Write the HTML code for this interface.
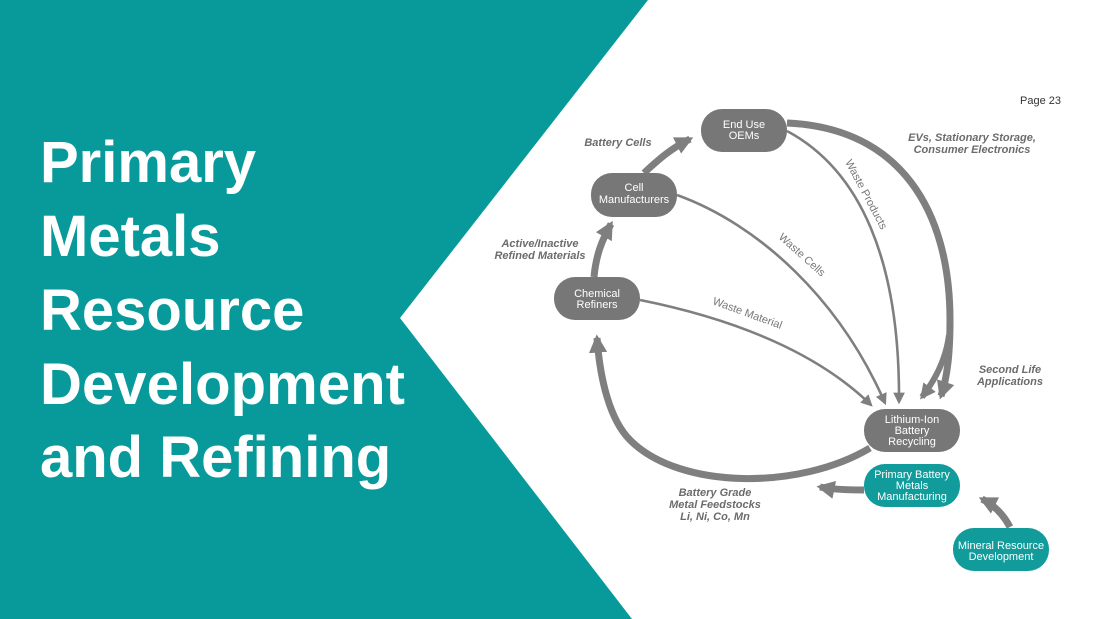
<!DOCTYPE html>
<html><head><meta charset="utf-8"><style>
html,body{margin:0;padding:0;background:#fff;}
svg{display:block;}
.t{font-family:"Liberation Sans",sans-serif;font-weight:bold;fill:#fff;font-size:58px;}
.n{font-family:"Liberation Sans",sans-serif;font-size:11px;fill:#fff;text-anchor:middle;}
.l{font-family:"Liberation Sans",sans-serif;font-size:11px;font-weight:bold;font-style:italic;fill:#6b6b6b;text-anchor:middle;}
.w{font-family:"Liberation Sans",sans-serif;font-size:11px;fill:#777;}
</style></head><body>
<svg width="1100" height="619" viewBox="0 0 1100 619" xmlns="http://www.w3.org/2000/svg">
<defs>
<marker id="a" viewBox="0 0 10 10" refX="8" refY="5" markerWidth="2.6" markerHeight="2.6" orient="auto"><path d="M0,0L10,5L0,10z" fill="#7f7f7f"/></marker>
<marker id="b" viewBox="0 0 10 10" refX="8" refY="5" markerWidth="4.5" markerHeight="4.5" orient="auto"><path d="M0,0L10,5L0,10z" fill="#7f7f7f"/></marker>
</defs>
<polygon points="0,0 648,0 400,318 632,619 0,619" fill="#089a9a"/>
<text class="t" x="40" y="182">Primary</text>
<text class="t" x="40" y="256">Metals</text>
<text class="t" x="40" y="330">Resource</text>
<text class="t" x="40" y="404" textLength="365">Development</text>
<text class="t" x="40" y="477">and Refining</text>
<text x="1061" y="104" font-family="Liberation Sans,sans-serif" font-size="11" fill="#333" text-anchor="end">Page 23</text>

<g fill="none" stroke="#7f7f7f" stroke-linecap="butt">
<path d="M594,277 C596,255 602,240 611,224" stroke-width="7" marker-end="url(#a)"/>
<path d="M644,173 C660,158 672,148 690,139" stroke-width="7" marker-end="url(#a)"/>
<path d="M787,123 C900,128 950,210 950,320 C950,350 948,375 941,396" stroke-width="7" marker-end="url(#a)"/>
<path d="M949,335 C946,360 935,380 922,397" stroke-width="6" marker-end="url(#a)"/>
<path d="M870,448 C800,490 680,490 630,440 C610,420 600,380 597,338" stroke-width="7" marker-end="url(#a)"/>
<path d="M864,490 C845,490 830,489 820,487" stroke-width="7" marker-end="url(#a)"/>
<path d="M1010,527 C1002,512 992,504 982,499" stroke-width="7" marker-end="url(#a)"/>
<path d="M787,131 C860,170 900,260 899,402" stroke-width="2.6" marker-end="url(#b)"/>
<path d="M677,195 C760,225 840,300 885,403" stroke-width="2.6" marker-end="url(#b)"/>
<path d="M640,300 C740,320 820,355 871,405" stroke-width="2.6" marker-end="url(#b)"/>
</g>

<g fill="#777">
<rect x="701" y="109" width="86" height="43" rx="21"/>
<rect x="591" y="173" width="86" height="44" rx="21"/>
<rect x="554" y="277" width="86" height="43" rx="21"/>
<rect x="864" y="409" width="96" height="43" rx="21"/>
</g>
<g fill="#119b9b">
<rect x="864" y="464" width="96" height="43" rx="21"/>
<rect x="953" y="528" width="96" height="43" rx="21"/>
</g>
<text class="n" x="744" y="128">End Use</text><text class="n" x="744" y="139">OEMs</text>
<text class="n" x="634" y="191">Cell</text><text class="n" x="634" y="203">Manufacturers</text>
<text class="n" x="597" y="297">Chemical</text><text class="n" x="597" y="308">Refiners</text>
<text class="n" x="912" y="423">Lithium-Ion</text><text class="n" x="912" y="434">Battery</text><text class="n" x="912" y="445">Recycling</text>
<text class="n" x="912" y="478">Primary Battery</text><text class="n" x="912" y="489">Metals</text><text class="n" x="912" y="500">Manufacturing</text>
<text class="n" x="1001" y="549">Mineral Resource</text><text class="n" x="1001" y="560">Development</text>

<text class="l" x="618" y="146">Battery Cells</text>
<text class="l" x="972" y="141">EVs, Stationary Storage,</text>
<text class="l" x="972" y="153">Consumer Electronics</text>
<text class="l" x="540" y="247">Active/Inactive</text>
<text class="l" x="540" y="259">Refined Materials</text>
<text class="l" x="1010" y="373">Second Life</text>
<text class="l" x="1010" y="385">Applications</text>
<text class="l" x="715" y="496">Battery Grade</text>
<text class="l" x="715" y="508">Metal Feedstocks</text>
<text class="l" x="715" y="520">Li, Ni, Co, Mn</text>

<text class="w" transform="translate(845,162) rotate(62)">Waste Products</text>
<text class="w" transform="translate(778,238) rotate(42)">Waste Cells</text>
<text class="w" transform="translate(712,304) rotate(20)">Waste Material</text>
</svg>
</body></html>
